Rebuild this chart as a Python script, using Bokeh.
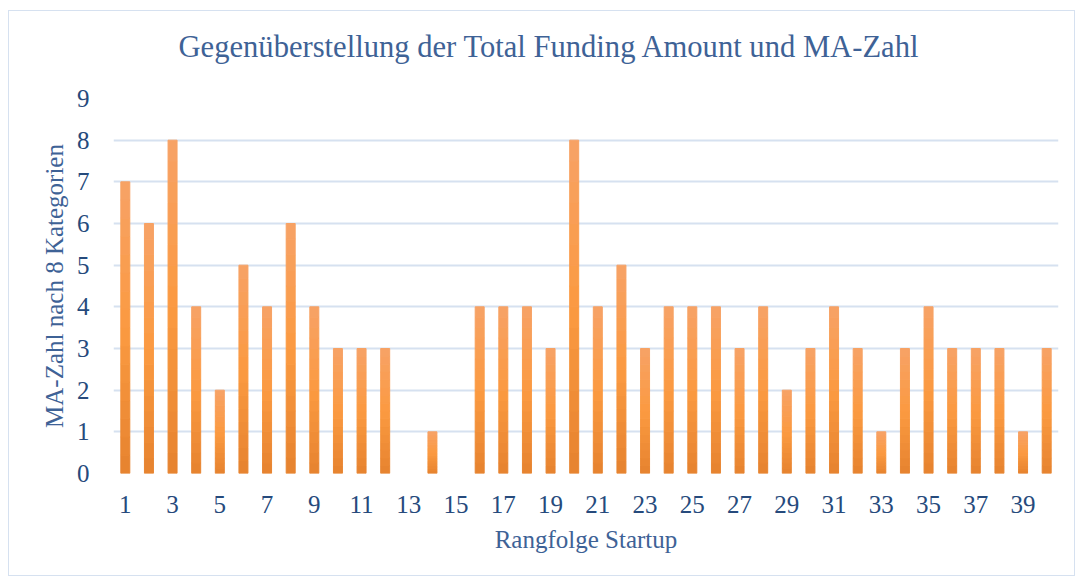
import numpy as np
from bokeh.plotting import figure
from bokeh.models import FixedTicker, ColumnDataSource, Range1d, Title
from bokeh.embed import file_html
from bokeh.resources import INLINE

ranks = list(range(1, 41))
ma_zahl = [7, 6, 8, 4, 2, 5, 4, 6, 4, 3,
           3, 3, 0, 1, 0, 4, 4, 4, 3, 8,
           4, 5, 3, 4, 4, 4, 3, 4, 2, 3,
           4, 3, 1, 3, 4, 3, 3, 3, 1, 3]
y_ticks = list(range(0, 10))
x_ticks = list(range(1, 41, 2))
title_text = "Gegenüberstellung der Total Funding Amount und MA-Zahl"

FONT = "Liberation Serif"
TEXT_DARK = "#264a7c"
TEXT_LIGHT = "#3e6296"
GRID = "#d6e1f0"

p = figure(width=1067, height=566, output_backend="svg", toolbar_location=None,
           x_range=Range1d(0.5, 40.5), y_range=Range1d(0, 9),
           min_border_left=104, min_border_right=18, min_border_top=87,
           min_border_bottom=104)
p.styles = {"border": "1px solid #d6e1f0", "margin-left": "8px", "margin-top": "10px"}
p.outline_line_color = None

# gradient bars: lighter at top, darker at bottom (slices of each bar)
stops = [(0.0, (0xe6, 0x83, 0x2f)), (0.5, (0xfb, 0x9a, 0x41)), (1.0, (0xf7, 0xa2, 0x66))]
def grad(t):
    for (t0, c0), (t1, c1) in zip(stops[:-1], stops[1:]):
        if t <= t1:
            f = (t - t0) / (t1 - t0)
            return "#%02x%02x%02x" % tuple(int(round(a + (b - a) * f)) for a, b in zip(c0, c1))
    return "#%02x%02x%02x" % stops[-1][1]

N = 16
vals = np.array(ma_zahl, dtype=float)
edge_alpha = (vals > 0).astype(float)
for i in range(N):
    src = ColumnDataSource(dict(x=ranks, bottom=vals * i / N, top=vals * (i + 1) / N,
                                la=edge_alpha))
    c = grad((i + 0.5) / N)
    p.vbar(x="x", bottom="bottom", top="top", width=0.38, source=src,
           fill_color=c, line_color=c, line_width=1, line_alpha="la")

# real chart title (outer) and a spacer title nearest the frame
p.title.text = title_text
p.title.align = "left"
p.title.offset = 65
p.title.text_font = FONT
p.title.text_font_size = "30.6px"
p.title.text_font_style = "normal"
p.title.text_color = TEXT_LIGHT
p.title.standoff = 4
p.add_layout(Title(text=" ", text_font_size="1px", standoff=30), "above")

p.xgrid.visible = False
p.ygrid.grid_line_color = GRID
p.ygrid.grid_line_width = 2
p.ygrid.ticker = FixedTicker(ticks=y_ticks)

for ax in (p.xaxis[0], p.yaxis[0]):
    ax.axis_line_color = None
    ax.major_tick_line_color = None
    ax.minor_tick_line_color = None
    ax.major_label_text_font = FONT
    ax.major_label_text_font_size = "25px"
    ax.major_label_text_color = TEXT_DARK
    ax.axis_label_text_font = FONT
    ax.axis_label_text_font_size = "25px"
    ax.axis_label_text_font_style = "normal"
    ax.axis_label_text_color = TEXT_LIGHT

p.xaxis.ticker = FixedTicker(ticks=x_ticks)
p.yaxis.ticker = FixedTicker(ticks=y_ticks)
p.xaxis.axis_label = "Rangfolge Startup"
p.yaxis.axis_label = "MA-Zahl nach 8 Kategorien"
p.xaxis.major_label_standoff = 16
p.yaxis.major_label_standoff = 18
p.xaxis.axis_label_standoff = 10
p.yaxis.axis_label_standoff = 6

open("out.html", "w").write(file_html(p, INLINE))
